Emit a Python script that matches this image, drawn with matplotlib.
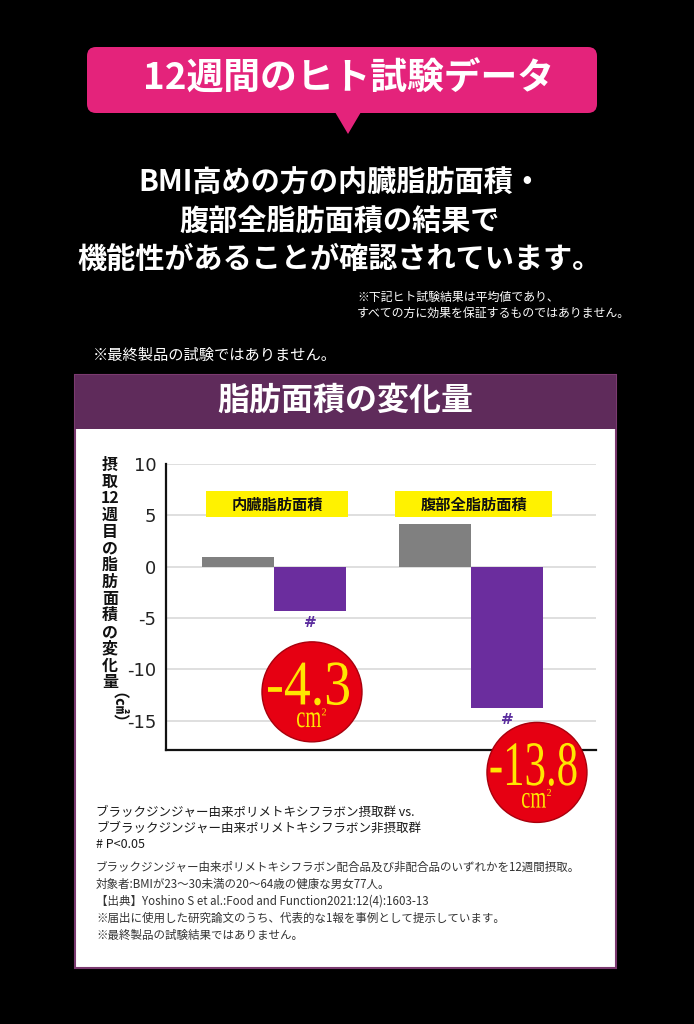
import matplotlib
matplotlib.use('Agg')
import matplotlib.pyplot as plt
from matplotlib.patches import Rectangle, FancyBboxPatch, Polygon, Circle, PathPatch
from matplotlib.textpath import TextPath
from matplotlib.font_manager import FontProperties
from matplotlib.transforms import Affine2D

plt.rcParams['font.family'] = ['Noto Sans CJK JP', 'DejaVu Sans']

# ---------------- data ----------------
categories = ['内臓脂肪面積', '腹部全脂肪面積']
control_change = [0.9, 4.2]        # 非摂取群 (gray)
treatment_change = [-4.3, -13.8]   # 摂取群 (purple)
y_ticks = [10, 5, 0, -5, -10, -15]
callout_labels = ['-4.3', '-13.8']
significance = ['#', '#']
ylabel_chars = ['摂', '取', '12', '週', '目', 'の', '脂', '肪', '面', '積', 'の', '変', '化', '量']

# ---------------- figure ----------------
W, H = 694, 1024
fig = plt.figure(figsize=(W / 100, H / 100), dpi=100, facecolor='black')

bg = fig.add_axes([0, 0, 1, 1], zorder=0)
bg.set_xlim(0, W); bg.set_ylim(H, 0); bg.axis('off')

PINK = '#E4237B'
bg.add_patch(FancyBboxPatch((87, 47), 510, 66, boxstyle='round,pad=0,rounding_size=9',
                            fc=PINK, ec='none'))
bg.add_patch(Polygon([(335, 112), (361, 112), (348, 134)], closed=True, fc=PINK, ec='none'))
bg.text(349, 79, '12週間のヒト試験データ', color='white', fontsize=26.5, fontweight='bold',
        ha='center', va='center')

heading = ['BMI高めの方の内臓脂肪面積・', '腹部全脂肪面積の結果で', '機能性があることが確認されています。']
for yy, s in zip([183, 221, 259], heading):
    bg.text(340, yy, s, color='white', fontsize=21, fontweight='bold', ha='center', va='center')

bg.text(357, 297, '※下記ヒト試験結果は平均値であり、', color='white', fontsize=8.6, ha='left', va='center')
bg.text(357, 313, 'すべての方に効果を保証するものではありません。', color='white', fontsize=8.6,
        ha='left', va='center')
bg.text(93, 355, '※最終製品の試験ではありません。', color='white', fontsize=11, ha='left', va='center')

# panel
bg.add_patch(Rectangle((75, 375), 541, 593, fc='white', ec='#7B3A70', lw=1.5))
bg.add_patch(Rectangle((75, 375), 541, 54, fc='#5F2B5B', ec='none'))
bg.text(345, 401, '脂肪面積の変化量', color='white', fontsize=23, fontweight='bold',
        ha='center', va='center')

# y label (vertical writing)
for i, ch in enumerate(ylabel_chars):
    bg.text(110, 465 + i * 16.7, ch, color='#111111', fontsize=11.5, fontweight='bold',
            ha='center', va='center')
bg.text(110, 716, '（㎠）', color='#111111', fontsize=11.5, fontweight='bold', rotation=-90,
        ha='center', va='center')

# footer
foot1 = ['ブラックジンジャー由来ポリメトキシフラボン摂取群 vs.',
         'ブブラックジンジャー由来ポリメトキシフラボン非摂取群',
         '# P<0.05']
for yy, s in zip([812, 828, 844], foot1):
    bg.text(96, yy, s, color='#1a1a1a', fontsize=9, ha='left', va='center')
foot2 = ['ブラックジンジャー由来ポリメトキシフラボン配合品及び非配合品のいずれかを12週間摂取。',
         '対象者:BMIが23～30未満の20～64歳の健康な男女77人。',
         '【出典】Yoshino S et al.:Food and Function2021:12(4):1603-13',
         '※届出に使用した研究論文のうち、代表的な1報を事例として提示しています。',
         '※最終製品の試験結果ではありません。']
for yy, s in zip([867, 884, 901, 918, 935], foot2):
    bg.text(96, yy, s, color='#333333', fontsize=8.3, ha='left', va='center')

# ---------------- chart ----------------
ax = fig.add_axes([166 / W, (H - 750) / H, 430 / W, 286 / H], zorder=1)
ax.patch.set_alpha(0)
bw = 0.366
xs = list(range(len(categories)))
ax.bar([x - bw / 2 for x in xs], control_change, width=bw, color='#808080', zorder=2)
ax.bar([x + bw / 2 for x in xs], treatment_change, width=bw, color='#6B2D9E', zorder=2)
ax.set_xlim(-0.548, 1.635)
ax.set_ylim(-17.85, 10)
ax.set_yticks(y_ticks)
ax.set_yticklabels([str(t) for t in y_ticks], fontsize=13, color='#222222', family='DejaVu Sans')
ax.tick_params(axis='y', length=0, pad=7)
ax.set_xticks([])
ax.yaxis.grid(True, color='#d9d9d9', lw=1.2)
ax.set_axisbelow(True)
for sp in ['top', 'right']:
    ax.spines[sp].set_visible(False)
for sp in ['left', 'bottom']:
    ax.spines[sp].set_linewidth(1.6)
    ax.spines[sp].set_color('#111111')

# category label boxes
box_w = [0.72, 0.80]
box_off = [-0.345, -0.386]
for x, lab, w, o in zip(xs, categories, box_w, box_off):
    ax.add_patch(Rectangle((x + o, 4.8), w, 2.55, fc='#FFF200', ec='none', zorder=3))
    ax.text(x + o + w / 2, 6.05, lab, fontsize=11, fontweight='bold', color='#111111',
            ha='center', va='center', zorder=4)

# significance marks
for x, v, s in zip(xs, treatment_change, significance):
    ax.text(x + bw / 2, v - 1.15, s, color='#5B2D9E', fontsize=11, fontweight='bold',
            ha='center', va='center', family='DejaVu Serif', zorder=4)

# ---------------- callouts ----------------
ov = fig.add_axes([0, 0, 1, 1], zorder=3)
ov.set_xlim(0, W); ov.set_ylim(H, 0); ov.axis('off'); ov.patch.set_alpha(0)

serif = FontProperties(family='Liberation Serif')
YEL = '#FFE600'


def fit_text(s, cx, cy, w, h):
    tp = TextPath((0, 0), s, size=100, prop=serif)
    ext = tp.get_extents()
    tr = (Affine2D().translate(-ext.x0 - ext.width / 2, -ext.y0 - ext.height / 2)
          .scale(w / ext.width, -h / ext.height).translate(cx, cy))
    ov.add_patch(PathPatch(tr.transform_path(tp), fc=YEL, ec='none', zorder=5))


circle_dx = [2, 30]
circle_dy = [81, 64]
num_w = [81, 86]
for x, v, lab, dx, dy, nw in zip(xs, treatment_change, callout_labels, circle_dx, circle_dy, num_w):
    px, py = ax.transData.transform((x + bw / 2, v))
    cx, cy = px + dx, (H - py) + dy
    ov.add_patch(Circle((cx, cy), 50, fc='#E60012', ec='#A8000C', lw=1.0, zorder=4))
    fit_text(lab, cx - 3.5, cy - 8, nw, 43)
    fit_text('cm', cx - 3, cy + 28, 24, 15)
    fit_text('2', cx + 12, cy + 20, 4, 7)

fig.savefig('out.png', dpi=100, facecolor='black')
